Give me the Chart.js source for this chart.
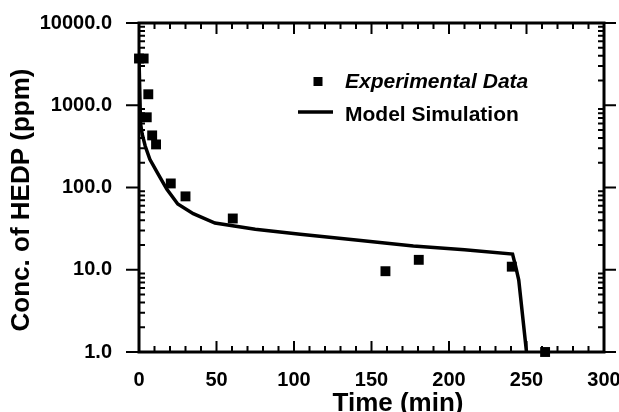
<!DOCTYPE html>
<html>
<head>
<meta charset="utf-8">
<script src="https://cdn.jsdelivr.net/npm/chart.js@4/dist/chart.umd.min.js"></script>
<style>
  body { margin: 0; background: #fff; }
  #wrap { width: 619px; height: 412px; }
</style>
</head>
<body>
<div id="wrap"><canvas id="myChart"></canvas></div>
<script>
// Experimental points (time in min, conc in ppm)
var expTime = [0, 3, 5, 6, 8.5, 11, 20.5, 30, 60.5, 159, 180.5, 240.5, 262];
var expConc = [3700, 3700, 714, 1360, 430, 334, 112, 78, 42, 9.6, 13.2, 10.9, 1.0];
// Model simulation curve
var modelTime = [0, 1, 2, 4, 7, 12, 18, 25, 35, 49, 75, 104, 140, 177, 210, 241, 243, 245, 250];
var modelConc = [3700, 600, 450, 320, 220, 150, 95, 63, 48, 37, 31, 27, 23, 19.5, 17.5, 15.5, 11, 7.5, 1.0];
// Axis ticks
var xTicks = [0, 50, 100, 150, 200, 250, 300];
var yTicks = [1, 10, 100, 1000, 10000];

function pts(xs, ys) {
  return xs.map(function (x, i) { return { x: x, y: ys[i] }; });
}

function noPad(s) {
  s.paddingLeft = 0; s.paddingRight = 0; s.paddingTop = 0; s.paddingBottom = 0;
}

// frame, inward minor ticks, outward major ticks, titles and legend
var decor = {
  id: 'decor',
  beforeDatasetsDraw: function (chart) {
    var ctx = chart.ctx, a = chart.chartArea;
    var xs = chart.scales.x, ys = chart.scales.y;
    ctx.save();
    ctx.strokeStyle = '#000';
    ctx.lineWidth = 2;
    ctx.beginPath();
    // x ticks every 10, longer every 50 (bottom up, top down)
    for (var t = 0; t <= 300; t += 10) {
      var px = xs.getPixelForValue(t);
      var len = (t % 50 === 0) ? 11 : 6;
      ctx.moveTo(px, a.bottom); ctx.lineTo(px, a.bottom - len);
      ctx.moveTo(px, a.top); ctx.lineTo(px, a.top + len);
    }
    // y minor ticks inward, major ticks outward
    for (var d = 1; d < 10000; d *= 10) {
      for (var m = 2; m <= 9; m++) {
        var py = ys.getPixelForValue(d * m);
        ctx.moveTo(a.left, py); ctx.lineTo(a.left + 6, py);
        ctx.moveTo(a.right, py); ctx.lineTo(a.right - 6, py);
      }
    }
    yTicks.forEach(function (v) {
      var py = ys.getPixelForValue(v);
      ctx.moveTo(a.left, py); ctx.lineTo(a.left - 13, py);
      ctx.moveTo(a.right, py); ctx.lineTo(a.right + 12, py);
    });
    ctx.stroke();
    ctx.lineWidth = 3;
    ctx.strokeRect(a.left, a.top, a.right - a.left, a.bottom - a.top);

    // axis titles
    ctx.fillStyle = '#000';
    ctx.font = 'bold 26px "Liberation Sans"';
    ctx.textAlign = 'center';
    ctx.textBaseline = 'alphabetic';
    ctx.fillText('Time (min)', 398, 411);
    ctx.save();
    ctx.translate(22, 200);
    ctx.rotate(-Math.PI / 2);
    ctx.textBaseline = 'middle';
    ctx.fillText('Conc. of HEDP (ppm)', 0, 0);
    ctx.restore();

    // legend
    ctx.textAlign = 'left';
    ctx.fillRect(313.5, 77, 9, 9);
    ctx.font = 'italic bold 21px "Liberation Sans"';
    ctx.fillText(chart.data.datasets[0].label, 345, 88);
    ctx.beginPath();
    ctx.lineWidth = 3.5;
    ctx.moveTo(298, 112); ctx.lineTo(333, 112);
    ctx.stroke();
    ctx.font = 'bold 21px "Liberation Sans"';
    ctx.fillText(chart.data.datasets[1].label, 345, 121);
    ctx.restore();
  }
};

var ctx = document.getElementById('myChart');
var myChart = new Chart(ctx, {
  type: 'scatter',
  data: {
    datasets: [
      {
        label: 'Experimental Data',
        data: pts(expTime, expConc),
        pointStyle: 'rect',
        pointRadius: 7,
        backgroundColor: '#000',
        borderColor: '#000',
        borderWidth: 0,
        clip: false
      },
      {
        label: 'Model Simulation',
        type: 'line',
        data: pts(modelTime, modelConc),
        showLine: true,
        pointRadius: 0,
        borderColor: '#000',
        borderWidth: 3.5,
        tension: 0,
        fill: false
      }
    ]
  },
  options: {
    responsive: true,
    maintainAspectRatio: false,
    animation: false,
    layout: { padding: { top: 23, right: 15, left: 0, bottom: 0 } },
    plugins: { legend: { display: false }, tooltip: { enabled: false } },
    scales: {
      x: {
        type: 'linear',
        min: 0,
        max: 300,
        afterBuildTicks: function (s) { s.ticks = xTicks.map(function (v) { return { value: v }; }); },
        afterFit: function (s) { s.height = 60; noPad(s); },
        grid: { display: false, drawTicks: false },
        border: { display: false },
        ticks: {
          padding: 16,
          color: '#000',
          font: { family: 'Liberation Sans', size: 20, weight: 'bold' },
          maxRotation: 0
        }
      },
      y: {
        type: 'logarithmic',
        min: 1,
        max: 10000,
        afterBuildTicks: function (s) { s.ticks = yTicks.map(function (v) { return { value: v }; }); },
        afterFit: function (s) { s.width = 139; noPad(s); },
        grid: { display: false, drawTicks: false },
        border: { display: false },
        ticks: {
          padding: 27,
          color: '#000',
          font: { family: 'Liberation Sans', size: 20, weight: 'bold' },
          callback: function (v) { return Number(v).toFixed(1); }
        }
      }
    }
  },
  plugins: [decor]
});
</script>
</body>
</html>
